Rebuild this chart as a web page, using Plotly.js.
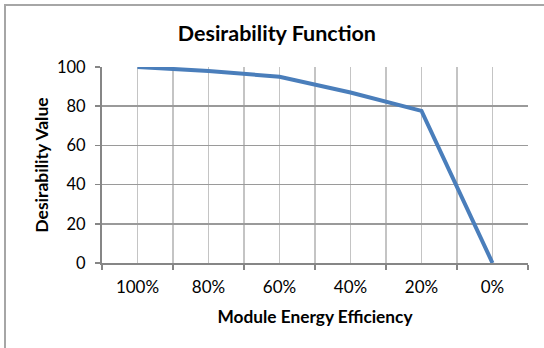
<!DOCTYPE html>
<html>
<head>
<meta charset="utf-8">
<script src="https://cdn.plot.ly/plotly-3.0.1.min.js"></script>
<style>
  html, body { margin: 0; padding: 0; background: #ffffff; }
  #wrap { position: relative; width: 544px; height: 348px; overflow: hidden; }
  #frame { position: absolute; left: 4px; top: 4px; width: 600px; height: 400px;
           border: 2px solid #a6a6a6; box-sizing: border-box; pointer-events: none; z-index: 5; }
  #chart { position: absolute; left: 0; top: 0; width: 544px; height: 348px; }
</style>
</head>
<body>
<div id="wrap">
  <div id="chart"></div>
  <div id="frame"></div>
</div>
<script>
// ---- data ----
const categories = ['100%', '80%', '60%', '40%', '20%', '0%'];
const desirability = [100, 98, 95, 87, 77.6, 0];
const yTickValues = [0, 20, 40, 60, 80, 100];

const chartTitle = 'Desirability Function';
const xTitle = 'Module Energy Efficiency';
const yTitle = 'Desirability Value';

// ---- build ----
const xIndex = categories.map((_, i) => i);

const trace = {
  x: xIndex,
  y: desirability,
  type: 'scatter',
  mode: 'lines',
  line: { color: '#4a7ebb', width: 4 },
  hoverinfo: 'x+y'
};

const fontFamily = 'Lato, "Open Sans", sans-serif';

const layout = {
  width: 544,
  height: 348,
  margin: { l: 102, r: 16, t: 67, b: 85 },
  paper_bgcolor: 'rgba(0,0,0,0)',
  plot_bgcolor: '#ffffff',
  showlegend: false,
  font: { family: fontFamily, color: '#000000' },
  title: {
    text: '<b>' + chartTitle + '</b>',
    font: { family: fontFamily, size: 21.5, color: '#000000' },
    xref: 'container', x: 0.509, xanchor: 'center',
    yref: 'container', y: 0.905, yanchor: 'middle'
  },
  xaxis: {
    range: [-0.5, categories.length - 0.5],
    tickmode: 'array',
    tickvals: xIndex,
    ticktext: categories,
    ticks: '',
    ticklabelstandoff: 8,
    tickfont: { family: fontFamily, size: 17, color: '#000000' },
    showgrid: true,
    gridcolor: '#c4c4c4',
    gridwidth: 1.3,
    zeroline: false,
    showline: true,
    linecolor: '#868686',
    linewidth: 2,
    minor: {
      tick0: -0.5,
      dtick: 1,
      ticks: 'outside',
      ticklen: 5,
      tickwidth: 1.5,
      tickcolor: '#868686',
      showgrid: true,
      gridcolor: '#c4c4c4',
      gridwidth: 1.3
    },
    title: {
      text: '<b>' + xTitle + '</b>',
      font: { family: fontFamily, size: 17.3, color: '#000000' },
      standoff: 14
    },
    fixedrange: true
  },
  yaxis: {
    range: [0, 100],
    tickmode: 'array',
    tickvals: yTickValues,
    ticks: 'outside',
    ticklen: 5,
    tickwidth: 1.5,
    tickcolor: '#868686',
    ticklabelstandoff: 6,
    tickfont: { family: fontFamily, size: 16.5, color: '#000000' },
    showgrid: true,
    gridcolor: '#9a9a9a',
    gridwidth: 1.5,
    zeroline: false,
    showline: true,
    linecolor: '#868686',
    linewidth: 2,
    title: {
      text: '<b>' + yTitle + '</b>',
      font: { family: fontFamily, size: 17.5, color: '#000000' },
      standoff: 4
    },
    fixedrange: true
  }
};

Plotly.newPlot('chart', [trace], layout, { displayModeBar: false, staticPlot: true });
</script>
</body>
</html>
